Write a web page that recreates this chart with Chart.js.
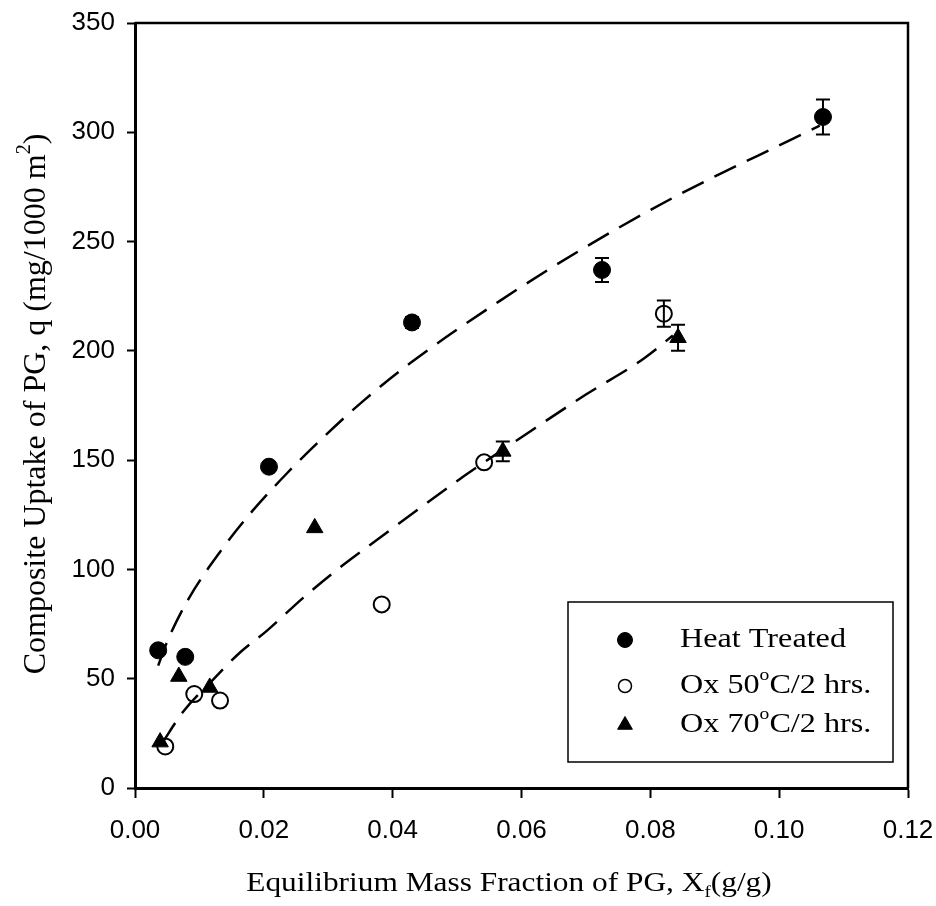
<!DOCTYPE html>
<html>
<head>
<meta charset="utf-8">
<script src="https://cdn.jsdelivr.net/npm/chart.js@4.4.1/dist/chart.umd.min.js"></script>
<style>
html, body { margin: 0; padding: 0; background: #fff; }
#wrap { position: relative; width: 936px; height: 906px; }
</style>
</head>
<body>
<div id="wrap"><canvas id="myChart" width="936" height="906"></canvas></div>
<script>
// measured points (x = mass fraction g/g, y = uptake mg/1000 m2)
var heatX = [0.0036, 0.0078, 0.0208, 0.0430, 0.0725, 0.1068];
var heatY = [63, 60, 147, 213, 237, 307];
var heatErr = [0, 0, 0, 2.5, 5.5, 8];

var ox50X = [0.0047, 0.0092, 0.0132, 0.0383, 0.0542, 0.0821];
var ox50Y = [19, 43, 40, 84, 149, 217];
var ox50Err = [0, 0, 0, 0, 0, 6];

var ox70X = [0.0039, 0.0068, 0.0116, 0.0279, 0.0571, 0.0843];
var ox70Y = [21, 51, 46, 119, 154, 206];
var ox70Err = [0, 0, 0, 0, 4.5, 6];

// dashed fit curves
var fitUpX = [0.0036, 0.0050, 0.0082, 0.0137, 0.0183, 0.0236, 0.0298, 0.0354, 0.0430, 0.0567, 0.0691, 0.0835, 0.1021, 0.1063];
var fitUpY = [56, 67, 86, 110, 127, 144, 162, 177, 195, 223, 246, 270, 297, 303];
var fitLowX = [0.0042, 0.0075, 0.0116, 0.0163, 0.0205, 0.0261, 0.0323, 0.0380, 0.0442, 0.0505, 0.0542, 0.0600, 0.0700, 0.0790, 0.0835];
var fitLowY = [20.5, 35, 48, 62, 72, 87, 102, 114.5, 128, 141.5, 149, 160.5, 180, 196.5, 207];

var xTicks = [0, 0.02, 0.04, 0.06, 0.08, 0.10, 0.12];
var xTickLabels = ['0.00', '0.02', '0.04', '0.06', '0.08', '0.10', '0.12'];
var yTicks = [0, 50, 100, 150, 200, 250, 300, 350];
var yTickLabels = ['0', '50', '100', '150', '200', '250', '300', '350'];

var legendLabels = [
	[{ t: 'Heat Treated' }],
	[{ t: 'Ox 50' }, { t: 'o', sup: true }, { t: 'C/2 hrs.' }],
	[{ t: 'Ox 70' }, { t: 'o', sup: true }, { t: 'C/2 hrs.' }]
];
var xTitle = [{ t: 'Equilibrium Mass Fraction of PG, X' }, { t: 'f', sub: true }, { t: '(g/g)' }];
var yTitle = [{ t: 'Composite Uptake of PG, q (mg/1000 m' }, { t: '2', sup: true }, { t: ')' }];

function pts(xs, ys) {
	return xs.map(function (x, i) { return { x: x, y: ys[i] }; });
}

var SERIF = '"Liberation Serif", "Times New Roman", serif';
var SANS = '"Liberation Sans", Arial, sans-serif';

// one line of text with super/subscripts; sx stretches it sideways like the scan
function drawRich(ctx, parts, cx, cy, size, align, sx) {
	sx = sx || 1;
	var small = Math.round(size * 0.62);
	var total = 0;
	parts.forEach(function (p) {
		ctx.font = (p.sup || p.sub ? small : size) + 'px ' + SERIF;
		p.w = ctx.measureText(p.t).width;
		total += p.w;
	});
	ctx.save();
	ctx.translate(cx, cy);
	ctx.scale(sx, 1);
	var x = align === 'left' ? 0 : -total / 2;
	ctx.textBaseline = 'middle';
	ctx.textAlign = 'left';
	parts.forEach(function (p) {
		var dy = 0;
		if (p.sup) dy = -size * 0.38;
		if (p.sub) dy = size * 0.3;
		ctx.font = (p.sup || p.sub ? small : size) + 'px ' + SERIF;
		ctx.fillText(p.t, x, dy);
		x += p.w;
	});
	ctx.restore();
}

var errorBars = {
	id: 'errorBars',
	beforeDatasetsDraw: function (chart) {
		var ctx = chart.ctx, xs = chart.scales.x, ys = chart.scales.y;
		var sets = [[heatX, heatY, heatErr], [ox50X, ox50Y, ox50Err], [ox70X, ox70Y, ox70Err]];
		ctx.save();
		ctx.strokeStyle = '#000';
		ctx.lineWidth = 2;
		sets.forEach(function (s) {
			s[0].forEach(function (x, i) {
				var e = s[2][i];
				if (!e) return;
				var px = xs.getPixelForValue(x);
				var top = ys.getPixelForValue(s[1][i] + e);
				var bot = ys.getPixelForValue(s[1][i] - e);
				ctx.beginPath();
				ctx.moveTo(px, top); ctx.lineTo(px, bot);
				ctx.moveTo(px - 7, top); ctx.lineTo(px + 7, top);
				ctx.moveTo(px - 7, bot); ctx.lineTo(px + 7, bot);
				ctx.stroke();
			});
		});
		ctx.restore();
	}
};

var frameAndText = {
	id: 'frameAndText',
	afterDraw: function (chart) {
		var ctx = chart.ctx, a = chart.chartArea;
		ctx.save();
		// frame top/right
		ctx.strokeStyle = '#000';
		ctx.lineWidth = 2.5;
		ctx.beginPath();
		ctx.moveTo(a.left, a.top); ctx.lineTo(a.right, a.top); ctx.lineTo(a.right, a.bottom);
		ctx.stroke();

		// legend box
		ctx.lineWidth = 1.5;
		ctx.strokeRect(568, 602, 325, 160);
		var rows = [640, 686, 725];
		var styles = [
			{ pointStyle: 'circle', radius: 7.5, borderWidth: 1, fill: '#000' },
			{ pointStyle: 'circle', radius: 6.5, borderWidth: 1.5, fill: '#fff' },
			{ pointStyle: 'triangle', radius: 8.5, borderWidth: 1, fill: '#000' }
		];
		rows.forEach(function (ry, i) {
			ctx.fillStyle = styles[i].fill;
			ctx.strokeStyle = '#000';
			ctx.lineWidth = styles[i].borderWidth;
			Chart.helpers.drawPoint(ctx, styles[i], 625, ry);
			ctx.fillStyle = '#000';
			drawRich(ctx, legendLabels[i], 680, ry, 28, 'left', 1.15);
		});

		// axis titles
		ctx.fillStyle = '#000';
		drawRich(ctx, xTitle, 509, 884, 28, 'center', 1.12);
		ctx.translate(37, 404);
		ctx.rotate(-Math.PI / 2);
		drawRich(ctx, yTitle, 0, 0, 32);
		ctx.restore();
	}
};

var ctx = document.getElementById('myChart').getContext('2d');
var myChart = new Chart(ctx, {
	type: 'scatter',
	data: {
		datasets: [
			{
				label: 'Heat Treated', data: pts(heatX, heatY), order: 1,
				pointStyle: 'circle', pointRadius: 8.5, backgroundColor: '#000', borderColor: '#000', borderWidth: 1
			},
			{
				label: 'Ox 50°C/2 hrs.', data: pts(ox50X, ox50Y), order: 1,
				pointStyle: 'circle', pointRadius: 8, backgroundColor: 'rgba(0,0,0,0)', borderColor: '#000', borderWidth: 2
			},
			{
				label: 'Ox 70°C/2 hrs.', data: pts(ox70X, ox70Y), order: 1,
				pointStyle: 'triangle', pointRadius: 9.5, backgroundColor: '#000', borderColor: '#000', borderWidth: 1
			},
			{
				label: 'fit heat', data: pts(fitUpX, fitUpY), order: 5, showLine: true,
				pointRadius: 0, borderColor: '#000', borderWidth: 2.5, borderDash: [24, 12],
				cubicInterpolationMode: 'monotone'
			},
			{
				label: 'fit ox', data: pts(fitLowX, fitLowY), order: 5, showLine: true,
				pointRadius: 0, borderColor: '#000', borderWidth: 2.5, borderDash: [24, 12],
				cubicInterpolationMode: 'monotone'
			}
		]
	},
	options: {
		responsive: false,
		animation: false,
		layout: { padding: 0 },
		plugins: { legend: { display: false }, tooltip: { enabled: false } },
		scales: {
			x: {
				type: 'linear', min: 0, max: 0.12,
				afterBuildTicks: function (s) { s.ticks = xTicks.map(function (v) { return { value: v }; }); },
				afterFit: function (s) { s.height = 118; s.paddingLeft = 0; s.paddingRight = 28; },
				grid: { drawOnChartArea: false, drawTicks: true, tickLength: 10, tickWidth: 2, tickColor: '#000' },
				border: { display: true, color: '#000', width: 3 },
				ticks: {
					color: '#000', padding: 17, maxRotation: 0,
					font: { family: SANS, size: 26 },
					callback: function (v) { return xTickLabels[xTicks.indexOf(v)]; }
				}
			},
			y: {
				type: 'linear', min: 0, max: 350,
				afterBuildTicks: function (s) { s.ticks = yTicks.map(function (v) { return { value: v }; }); },
				afterFit: function (s) { s.width = 135; s.paddingTop = 23; s.paddingBottom = 0; },
				grid: { drawOnChartArea: false, drawTicks: true, tickLength: 8, tickWidth: 2, tickColor: '#000' },
				border: { display: true, color: '#000', width: 3 },
				ticks: {
					color: '#000', padding: 12,
					font: { family: SANS, size: 26 },
					callback: function (v) { return yTickLabels[yTicks.indexOf(v)]; }
				}
			}
		}
	},
	plugins: [errorBars, frameAndText]
});
</script>
</body>
</html>
